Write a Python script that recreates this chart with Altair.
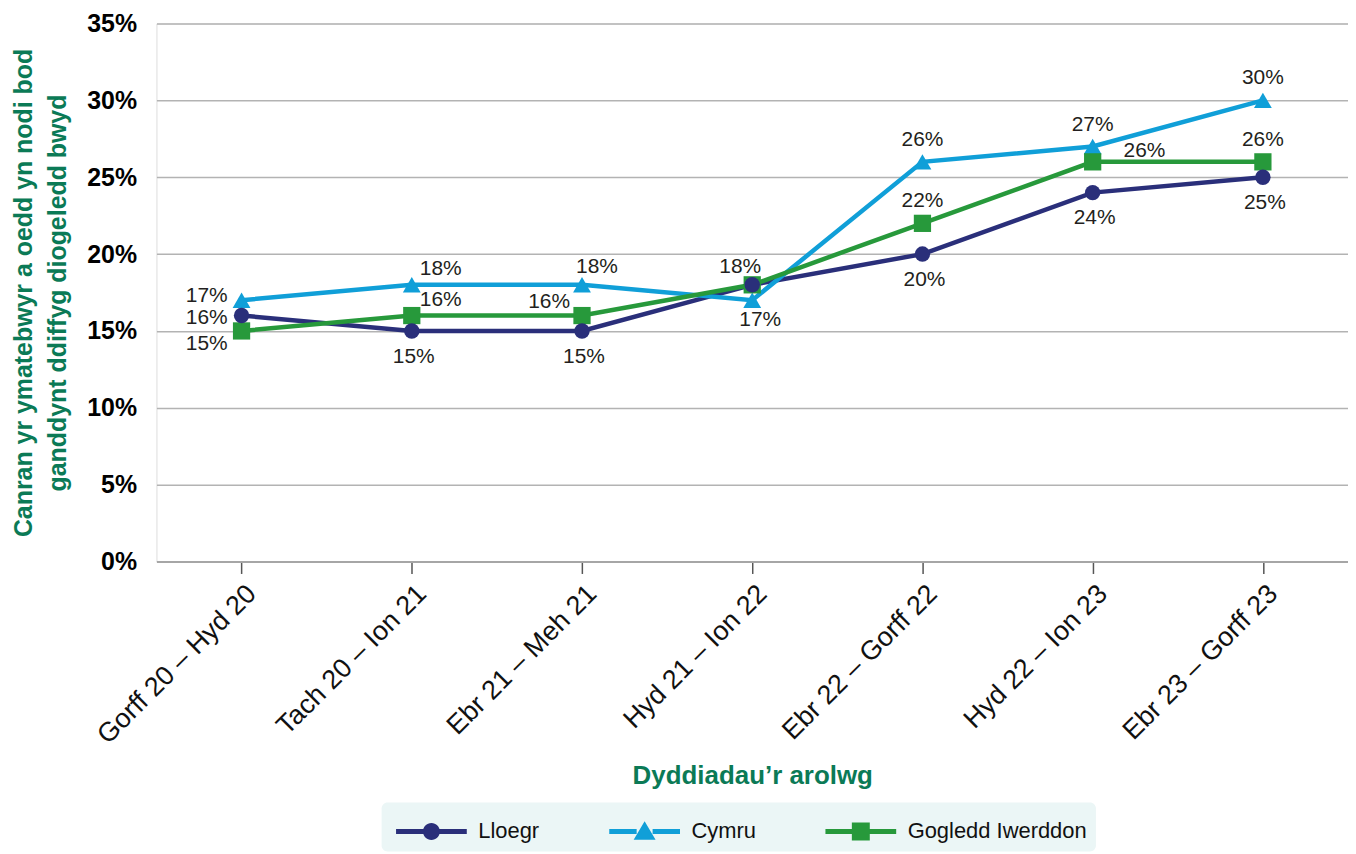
import altair as alt
import pandas as pd

# ---------------- data ----------------
periods = [
    "Gorff 20 – Hyd 20",
    "Tach 20 – Ion 21",
    "Ebr 21 – Meh 21",
    "Hyd 21 – Ion 22",
    "Ebr 22 – Gorff 22",
    "Hyd 22 – Ion 23",
    "Ebr 23 – Gorff 23",
]
series_names = ["Lloegr", "Cymru", "Gogledd Iwerddon"]
lloegr = [16, 15, 15, 18, 20, 24, 25]
cymru = [17, 18, 18, 17, 26, 27, 30]
gogledd = [15, 16, 16, 18, 22, 26, 26]
y_ticks = [0, 5, 10, 15, 20, 25, 30, 35]

# where each data label sits relative to its point
lloegr_lbl = ["left", "below", "below", "above-left", "below", "below", "below"]
cymru_lbl = ["left-up", "upper-right", "above-right", "below-right", "above", "above", "above"]
gogledd_lbl = ["lower-left", "upper-right", "upper-left", "none", "above", "right", "above"]

# ---------------- styles ----------------
colors = ["#2a2f7a", "#109fd8", "#27993b"]
green_title = "#0b7a56"
font = "Liberation Sans"

placements = {
    "left": ("right", -14, 2),
    "left-up": ("right", -14, -4),
    "lower-left": ("right", -14, 13),
    "below": ("center", 2, 26),
    "above": ("center", 0, -22),
    "upper-right": ("left", 8, -16),
    "above-right": ("center", 15, -18),
    "upper-left": ("right", -12, -14),
    "below-right": ("center", 8, 20),
    "above-left": ("center", -12, -18),
    "right": ("left", 31, -11),
}

bars = ("M-1.775,-0.125L-0.4,-0.125L-0.4,0.125L-1.775,0.125Z"
        "M0.4,-0.125L1.775,-0.125L1.775,0.125L0.4,0.125Z")
legend_paths = [
    bars + "M0.425,0A0.425,0.425 0 1,1 -0.425,0A0.425,0.425 0 1,1 0.425,0Z",
    bars + "M0,-0.52L0.55,0.42L-0.55,0.42Z",
    bars + "M-0.45,-0.45L0.45,-0.45L0.45,0.45L-0.45,0.45Z",
]

rows = []
for name, vals, lbls in zip(series_names, [lloegr, cymru, gogledd],
                            [lloegr_lbl, cymru_lbl, gogledd_lbl]):
    for p, v, l in zip(periods, vals, lbls):
        rows.append({"series": name, "period": p, "value": v, "placement": l})
df = pd.DataFrame(rows)

x_enc = alt.X(
    "period:N",
    sort=periods,
    scale=alt.Scale(domain=periods, type="point", padding=0.5),
    axis=alt.Axis(
        title="Dyddiadau’r arolwg",
        titleFontSize=26,
        titleFontWeight="bold",
        titleColor=green_title,
        titleFont=font,
        titleY=215,
        titleBaseline="middle",
        labelAngle=-45,
        labelAlign="right",
        labelBaseline="middle",
        labelFontSize=27,
        labelFont=font,
        labelColor="#111111",
        labelPadding=16,
        labelOffset=10,
        labelLimit=500,
        tickSize=12,
        tickColor="#555555",
        tickWidth=1.5,
        domainColor="#a6a6a6",
        domainWidth=2,
        grid=False,
    ),
)
y_enc = alt.Y(
    "value:Q",
    scale=alt.Scale(domain=[0, 35], nice=False, zero=True),
    axis=alt.Axis(
        values=y_ticks,
        labelExpr="datum.value + '%'",
        labelFontSize=25,
        labelFontWeight="bold",
        labelFont=font,
        labelColor="#000000",
        labelPadding=20,
        ticks=False,
        domain=False,
        grid=True,
        gridColor="#b3b3b3",
        gridWidth=1.5,
        title=["Canran yr ymatebwyr a oedd yn nodi bod",
               "ganddynt ddiffyg diogeledd bwyd"],
        titleFontSize=25,
        titleFontWeight="bold",
        titleColor=green_title,
        titleFont=font,
        titleLineHeight=34,
        titlePadding=16,
    ),
)
color_scale = alt.Scale(domain=series_names, range=colors)

base = alt.Chart(df)

legend_props = dict(
    title=None,
    orient="none",
    legendX=226,
    legendY=782,
    direction="horizontal",
    symbolSize=1600,
    symbolStrokeWidth=0,
    symbolOpacity=1,
    symbolOffset=21,
    labelOffset=27,
    labelFontSize=22,
    labelFont=font,
    labelColor="#111111",
    labelLimit=400,
    padding=9,
    fillColor="#ebf6f6",
    cornerRadius=6,
    columnPadding=64,
)
# invisible layer that only carries the legend (placed first so its legend wins)
legend_layer = (
    base.mark_point(filled=True, opacity=0)
    .encode(
        x=x_enc, y=y_enc,
        color=alt.Color("series:N", scale=color_scale, legend=alt.Legend(**legend_props)),
        shape=alt.Shape("series:N", scale=alt.Scale(domain=series_names, range=legend_paths),
                        legend=alt.Legend(**legend_props)),
    )
)

lines = base.mark_line(strokeWidth=4.5).encode(
    x=x_enc, y=y_enc,
    color=alt.Color("series:N", scale=color_scale, legend=None),
)

shapes = {"Lloegr": ("circle", 240), "Cymru": ("triangle-up", 320), "Gogledd Iwerddon": ("square", 300)}
point_layers = []
for name in ["Cymru", "Gogledd Iwerddon", "Lloegr"]:
    shp, sz = shapes[name]
    point_layers.append(
        base.transform_filter(alt.datum.series == name)
        .mark_point(shape=shp, size=sz, filled=True, opacity=1)
        .encode(x=x_enc, y=y_enc,
                color=alt.Color("series:N", scale=color_scale, legend=None))
    )

text_layers = []
for pname, (align, dx, dy) in placements.items():
    text_layers.append(
        base.transform_filter(alt.datum.placement == pname)
        .transform_calculate(label="datum.value + '%'")
        .mark_text(align=align, baseline="middle", dx=dx, dy=dy,
                   fontSize=21, font=font, color="#231f20")
        .encode(x=x_enc, y=y_enc, text="label:N")
    )

chart = (
    alt.layer(legend_layer, lines, *point_layers, *text_layers)
    .properties(
        width=1196,
        height=540,
        autosize=alt.AutoSizeParams(type="none"),
        padding={"left": 149, "top": 14, "right": 0, "bottom": 290},
    )
    .configure_view(stroke=None)
    .configure(font=font)
)

chart.save("out.html", embed_options={"renderer": "svg", "actions": False})
